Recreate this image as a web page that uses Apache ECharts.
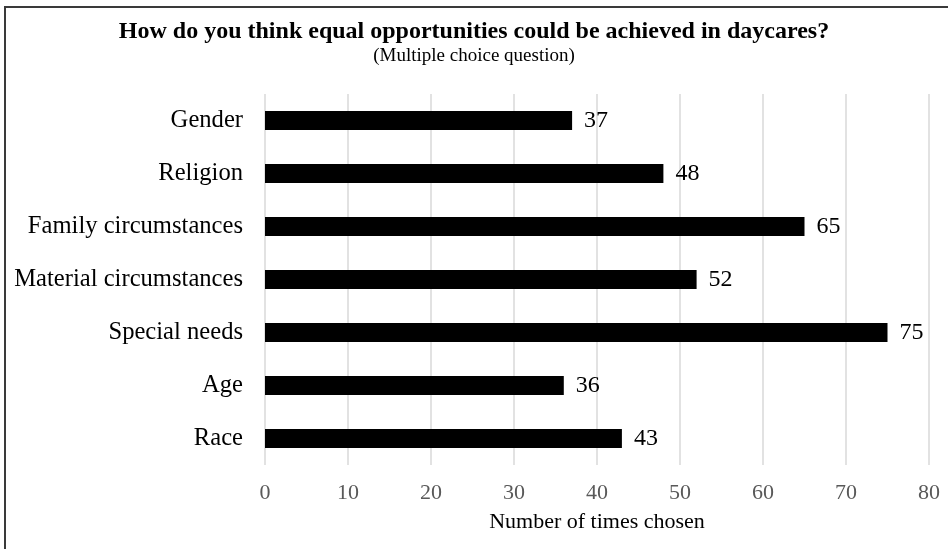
<!DOCTYPE html>
<html><head><meta charset="utf-8">
<script src="https://cdn.jsdelivr.net/npm/echarts@6/dist/echarts.min.js"></script>
<style>html,body{margin:0;padding:0;background:#fff}#c{width:948px;height:549px}</style>
</head><body><div id="c"></div>
<script>
const categories = ["Gender","Religion","Family circumstances","Material circumstances","Special needs","Age","Race"];
const values = [37,48,65,52,75,36,43];
const xTicks = [0,10,20,30,40,50,60,70,80];
const titleText = "How do you think equal opportunities could be achieved in daycares?";
const subtitleText = "(Multiple choice question)";
const xName = "Number of times chosen";

const F = "'Liberation Serif','Times New Roman',serif";
const chart = echarts.init(document.getElementById('c'), null, {renderer:'canvas'});
chart.setOption({
  animation:false,
  backgroundColor:'#fff',
  textStyle:{fontFamily:F},
  graphic:[{type:'rect',shape:{x:5,y:7,width:960,height:560},style:{fill:'none',stroke:'#3a3a3a',lineWidth:2},silent:true}],
  title:{text:titleText,subtext:subtitleText,left:'center',top:15,itemGap:3,
    textStyle:{fontFamily:F,fontSize:24,fontWeight:'bold',color:'#000'},
    subtextStyle:{fontFamily:F,fontSize:19,color:'#000'}},
  grid:{left:265,right:19,top:94,bottom:84,containLabel:false},
  xAxis:{type:'value',min:xTicks[0],max:xTicks[xTicks.length-1],interval:10,
    name:xName,nameLocation:'middle',nameGap:46,
    nameTextStyle:{fontFamily:F,fontSize:22,color:'#000'},
    axisLine:{show:false},axisTick:{show:false},
    axisLabel:{fontFamily:F,fontSize:22,color:'#595959',margin:17},
    splitLine:{show:true,lineStyle:{color:'#d9d9d9',width:1.5}}},
  yAxis:{type:'category',data:categories,inverse:true,
    axisLine:{show:false},axisTick:{show:false},
    axisLabel:{fontFamily:F,fontSize:24.6,color:'#000',margin:22}},
  series:[{type:'bar',data:values,barWidth:19,
    itemStyle:{color:'#000'},
    label:{show:true,position:'right',distance:12,fontFamily:F,fontSize:24,color:'#000'}}]
});
</script></body></html>
